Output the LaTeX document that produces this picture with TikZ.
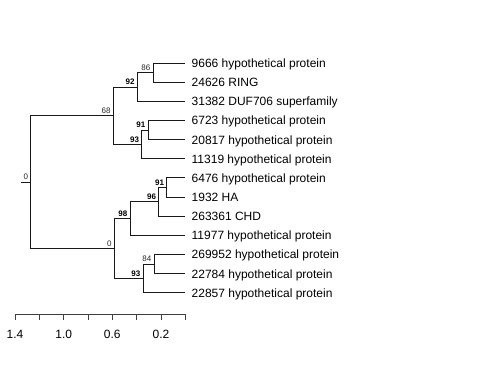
\documentclass[tikz,border=0pt]{standalone}
\usepackage{fontspec}
\setmainfont{Liberation Sans}
\tikzset{
  tiplab/.style={anchor=base west, inner sep=0pt, font=\fontsize{12}{14}\selectfont},
  bs/.style={anchor=base east, inner sep=0pt, font=\fontsize{8}{9}\selectfont, text=black!85},
  bsb/.style={anchor=base east, inner sep=0pt, font=\fontsize{8}{9}\selectfont\bfseries},
  branch/.style={line width=0.9pt, black!90},
  axlab/.style={anchor=base, inner sep=0pt, font=\fontsize{12}{14}\selectfont},
}
\begin{document}
\begin{tikzpicture}[x=1pt,y=-1pt]
\useasboundingbox (0,0) rectangle (480,384);
% tips
\foreach \i/\yy in {0/63,1/82.1,2/101.3,3/120.4,4/139.6,5/158.7,6/177.8,7/197.0,8/216.1,9/235.3,10/254.4,11/273.5,12/292.7}{
  \coordinate (t\i) at (185.3,\yy);
}
\node[tiplab] (l0) at (191.5,67.5) {9666 hypothetical protein};
\node[tiplab] (l1) at (191.5,86.6) {24626 RING};
\node[tiplab] (l2) at (191.5,105.8) {31382 DUF706 superfamily};
\node[tiplab] (l3) at (191.5,124.9) {6723 hypothetical protein};
\node[tiplab] (l4) at (191.5,144.1) {20817 hypothetical protein};
\node[tiplab] (l5) at (191.5,163.2) {11319 hypothetical protein};
\node[tiplab] (l6) at (191.5,182.3) {6476 hypothetical protein};
\node[tiplab] (l7) at (191.5,201.5) {1932 HA};
\node[tiplab] (l8) at (191.5,220.6) {263361 CHD};
\node[tiplab] (l9) at (191.5,239.8) {11977 hypothetical protein};
\node[tiplab] (l10) at (191.5,258.9) {269952 hypothetical protein};
\node[tiplab] (l11) at (191.5,278.0) {22784 hypothetical protein};
\node[tiplab] (l12) at (191.5,297.2) {22857 hypothetical protein};
% internal nodes
\coordinate (n86) at (153,72.6);
\coordinate (n92) at (137.3,87);
\coordinate (n91a) at (148,130);
\coordinate (n93a) at (141.7,144.3);
\coordinate (n68) at (113.3,115.7);
\coordinate (n91b) at (166.7,187.4);
\coordinate (n96) at (158.7,201.8);
\coordinate (n98) at (130,218.5);
\coordinate (n84) at (154,264);
\coordinate (n93b) at (143,278.3);
\coordinate (n0b) at (114.3,248.4);
\coordinate (root) at (30.7,182);
\coordinate (stub) at (20.7,182);
% branches
\draw[branch] (stub) -- (root);
\draw[branch] (root) |- (n68);
\draw[branch] (root) |- (n0b);
\draw[branch] (n68) |- (n92);
\draw[branch] (n68) |- (n93a);
\draw[branch] (n92) |- (n86);
\draw[branch] (n92) |- (t2);
\draw[branch] (n86) |- (t0);
\draw[branch] (n86) |- (t1);
\draw[branch] (n93a) |- (n91a);
\draw[branch] (n93a) |- (t5);
\draw[branch] (n91a) |- (t3);
\draw[branch] (n91a) |- (t4);
\draw[branch] (n0b) |- (n98);
\draw[branch] (n0b) |- (n93b);
\draw[branch] (n98) |- (n96);
\draw[branch] (n98) |- (t9);
\draw[branch] (n96) |- (n91b);
\draw[branch] (n96) |- (t8);
\draw[branch] (n91b) |- (t6);
\draw[branch] (n91b) |- (t7);
\draw[branch] (n93b) |- (n84);
\draw[branch] (n93b) |- (t12);
\draw[branch] (n84) |- (t10);
\draw[branch] (n84) |- (t11);
% support labels
\node[bs] (b0) at ([shift={(-2.5,-2.3)}]root) {0};
\node[bs] (b68) at ([shift={(-2.5,-2.3)}]n68) {68};
\node[bsb] (b92) at ([shift={(-2.5,-2.3)}]n92) {92};
\node[bs] (b86) at ([shift={(-2.5,-2.3)}]n86) {86};
\node[bsb] (b93a) at ([shift={(-2.5,-2.3)}]n93a) {93};
\node[bsb] (b91a) at ([shift={(-2.5,-2.3)}]n91a) {91};
\node[bs] (b0b) at ([shift={(-2.5,-2.3)}]n0b) {0};
\node[bsb] (b98) at ([shift={(-2.5,-2.3)}]n98) {98};
\node[bsb] (b96) at ([shift={(-2.5,-2.3)}]n96) {96};
\node[bsb] (b91b) at ([shift={(-2.5,-2.3)}]n91b) {91};
\node[bsb] (b93b) at ([shift={(-2.5,-2.3)}]n93b) {93};
\node[bs] (b84) at ([shift={(-2.5,-2.3)}]n84) {84};
% scale axis
\coordinate (ax0) at (15,314);
\coordinate (ax1) at (185.3,314);
\draw[line width=0.8pt, black!75] (ax0) -- (ax1);
\foreach \k in {0,...,7}{
  \draw[line width=0.8pt, black!75] (15+24.33*\k,314) -- (15+24.33*\k,319.5);
}
\node[axlab] (a14) at (15,338.3) {1.4};
\node[axlab] (a10) at (63.7,338.3) {1.0};
\node[axlab] (a06) at (112.3,338.3) {0.6};
\node[axlab] (a02) at (161,338.3) {0.2};
\end{tikzpicture}
\end{document}
